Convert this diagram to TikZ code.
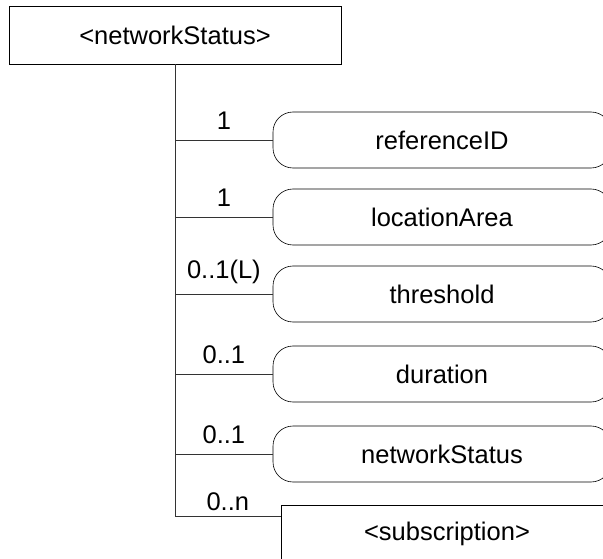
\documentclass[tikz,border=0pt]{standalone}
\usepackage{fontspec}
\setmainfont{Liberation Sans}
\begin{document}
\begin{tikzpicture}[x=1pt,y=-1pt,
elem/.style={draw=black,rectangle,line width=0.9pt,minimum width=332pt,minimum height=58pt,font=\fontsize{25.5}{30}\selectfont},
attr/.style={draw=black,rectangle,rounded corners=20pt,line width=0.6pt,minimum width=338pt,minimum height=56pt,font=\fontsize{25.5}{30}\selectfont},
card/.style={above,inner sep=0pt,font=\fontsize{25.5}{30}\selectfont},
link/.style={draw=black!80,line width=0.6pt}]
	\useasboundingbox (0,0) rectangle (603,559);
	\node[elem] at (175,35) (ns) {<networkStatus>};
	
	\node[attr] at (442,140) (ref) {referenceID};
	\node[attr] at (442,217) (loc) {locationArea};
	\node[attr] at (442,294) (thr) {threshold};
	\node[attr] at (442,374) (dur) {duration};
	\node[attr] at (442,454) (nst) {networkStatus};
	\node[elem,line width=0.9pt] at (447,534) (sub) {<subscription>};
	\coordinate (s1) at ([yshift=-12pt]sub.north west);
	
	\draw[link] (ns.south) -- (ns.south |- s1) -- (s1) node[card,midway,yshift=6pt] {0..n};
	\draw[link] (ns.south |- ref.west) -- (ref.west) node[card,midway,yshift=10pt] {1};
	\draw[link] (ns.south |- loc.west) -- (loc.west) node[card,midway,yshift=10pt] {1};
	\draw[link] (ns.south |- thr.west) -- (thr.west) node[card,midway,yshift=10pt] {0..1(L)};
	\draw[link] (ns.south |- dur.west) -- (dur.west) node[card,midway,yshift=10pt] {0..1};
	\draw[link] (ns.south |- nst.west) -- (nst.west) node[card,midway,yshift=10pt] {0..1};
\end{tikzpicture}
\end{document}
